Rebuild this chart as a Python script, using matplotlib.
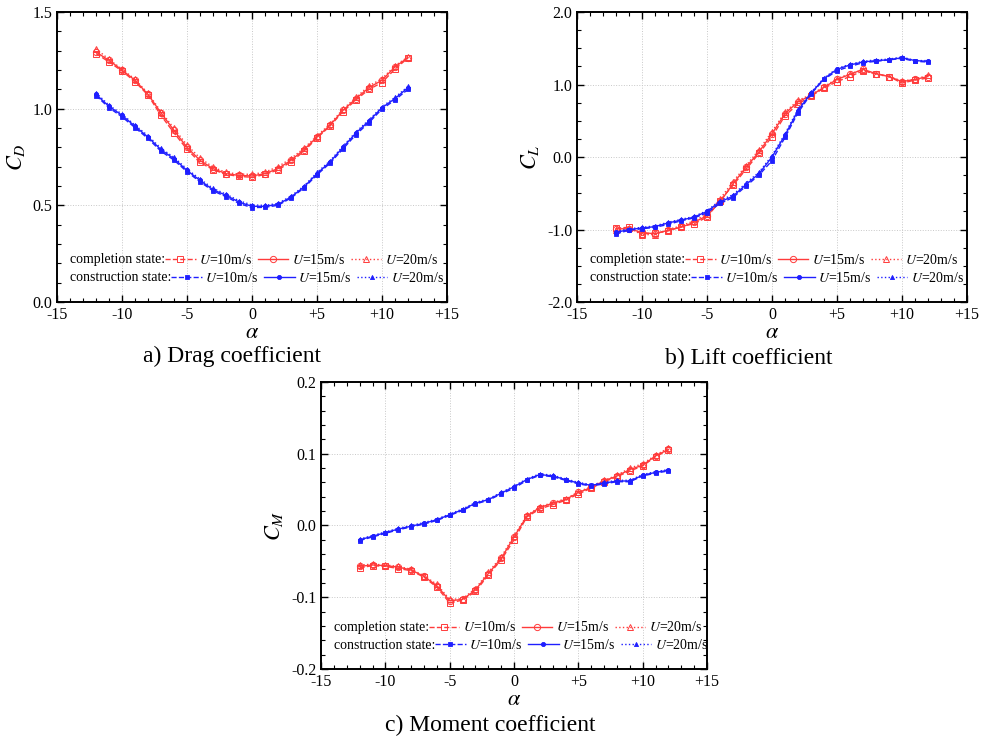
import numpy as np
import matplotlib
matplotlib.use("Agg")
import matplotlib.pyplot as plt
from matplotlib.ticker import MultipleLocator, FixedLocator

plt.rcParams['font.family'] = ['Liberation Serif', 'DejaVu Serif']
plt.rcParams['mathtext.fontset'] = 'stix'

alpha = np.arange(-12, 13)
xticks = [-15, -10, -5, 0, 5, 10, 15]
xticklabels = ['-15', '-10', '-5', '0', '+5', '+10', '+15']
speeds = ['10', '15', '20']

# drag coefficient
cd_comp_10 = [1.285, 1.242, 1.195, 1.140, 1.070, 0.965, 0.875, 0.790, 0.722, 0.685, 0.660, 0.650, 0.645,
              0.660, 0.683, 0.725, 0.780, 0.848, 0.910, 0.985, 1.045, 1.100, 1.135, 1.205, 1.262]
cd_comp_15 = [1.293, 1.250, 1.200, 1.147, 1.074, 0.978, 0.888, 0.800, 0.733, 0.690, 0.664, 0.655, 0.652,
              0.664, 0.690, 0.733, 0.788, 0.853, 0.914, 0.991, 1.052, 1.109, 1.147, 1.216, 1.264]
cd_comp_20 = [1.310, 1.255, 1.205, 1.152, 1.080, 0.985, 0.898, 0.812, 0.745, 0.698, 0.670, 0.662, 0.660,
              0.672, 0.700, 0.742, 0.795, 0.860, 0.920, 0.998, 1.058, 1.118, 1.155, 1.222, 1.268]
cd_cons_10 = [1.068, 1.005, 0.958, 0.902, 0.846, 0.780, 0.734, 0.674, 0.622, 0.575, 0.545, 0.510, 0.488,
              0.490, 0.500, 0.538, 0.590, 0.658, 0.718, 0.792, 0.866, 0.928, 0.998, 1.045, 1.100]
cd_cons_15 = [1.074, 1.012, 0.966, 0.909, 0.853, 0.788, 0.741, 0.681, 0.629, 0.581, 0.552, 0.517, 0.495,
              0.495, 0.505, 0.543, 0.595, 0.664, 0.724, 0.800, 0.874, 0.936, 1.005, 1.052, 1.109]
cd_cons_20 = [1.082, 1.018, 0.972, 0.915, 0.860, 0.795, 0.748, 0.688, 0.636, 0.588, 0.558, 0.524, 0.502,
              0.500, 0.510, 0.548, 0.600, 0.670, 0.730, 0.806, 0.880, 0.942, 1.010, 1.058, 1.115]

# lift coefficient
cl_comp_10 = [-0.98, -0.97, -1.06, -1.05, -1.02, -0.96, -0.92, -0.83, -0.60, -0.39, -0.17, 0.05, 0.28,
              0.57, 0.73, 0.84, 0.95, 1.04, 1.11, 1.19, 1.15, 1.11, 1.02, 1.06, 1.09]
cl_comp_15 = [-0.99, -0.99, -1.04, -1.06, -1.01, -0.97, -0.90, -0.81, -0.62, -0.37, -0.14, 0.07, 0.32,
              0.60, 0.76, 0.85, 0.96, 1.07, 1.14, 1.21, 1.15, 1.11, 1.04, 1.07, 1.11]
cl_comp_20 = [-1.01, -0.98, -1.07, -1.07, -1.00, -0.95, -0.88, -0.79, -0.58, -0.34, -0.12, 0.10, 0.35,
              0.62, 0.78, 0.86, 0.97, 1.08, 1.15, 1.20, 1.14, 1.11, 1.05, 1.07, 1.13]
cl_cons_10 = [-1.06, -1.01, -0.99, -0.97, -0.93, -0.88, -0.84, -0.77, -0.64, -0.56, -0.40, -0.25, -0.05,
              0.27, 0.61, 0.87, 1.07, 1.19, 1.25, 1.30, 1.32, 1.34, 1.36, 1.32, 1.31]
cl_cons_15 = [-1.04, -1.00, -0.98, -0.96, -0.91, -0.87, -0.83, -0.75, -0.62, -0.54, -0.38, -0.23, 0.00,
              0.30, 0.64, 0.88, 1.08, 1.21, 1.27, 1.31, 1.33, 1.34, 1.37, 1.33, 1.32]
cl_cons_20 = [-1.03, -0.99, -0.97, -0.95, -0.90, -0.86, -0.82, -0.74, -0.60, -0.52, -0.36, -0.21, 0.02,
              0.32, 0.66, 0.89, 1.09, 1.22, 1.28, 1.32, 1.34, 1.35, 1.38, 1.33, 1.33]

# moment coefficient
cm_comp_10 = [-0.059, -0.056, -0.057, -0.060, -0.063, -0.072, -0.086, -0.108, -0.104, -0.092, -0.069, -0.048, -0.020,
              0.012, 0.023, 0.029, 0.035, 0.044, 0.052, 0.061, 0.068, 0.076, 0.083, 0.096, 0.105]
cm_comp_15 = [-0.057, -0.055, -0.056, -0.058, -0.062, -0.071, -0.084, -0.105, -0.103, -0.090, -0.067, -0.046, -0.016,
              0.013, 0.025, 0.031, 0.036, 0.046, 0.053, 0.062, 0.069, 0.078, 0.084, 0.097, 0.106]
cm_comp_20 = [-0.055, -0.054, -0.055, -0.057, -0.061, -0.070, -0.082, -0.103, -0.102, -0.088, -0.065, -0.044, -0.014,
              0.014, 0.026, 0.032, 0.037, 0.047, 0.054, 0.063, 0.070, 0.080, 0.086, 0.098, 0.108]
cm_cons_10 = [-0.021, -0.016, -0.011, -0.006, -0.002, 0.002, 0.007, 0.014, 0.021, 0.030, 0.035, 0.044, 0.052,
              0.063, 0.070, 0.068, 0.063, 0.058, 0.055, 0.058, 0.061, 0.061, 0.069, 0.073, 0.076]
cm_cons_15 = [-0.020, -0.015, -0.010, -0.005, -0.001, 0.003, 0.008, 0.015, 0.022, 0.031, 0.036, 0.045, 0.054,
              0.064, 0.071, 0.069, 0.064, 0.059, 0.056, 0.059, 0.062, 0.062, 0.070, 0.074, 0.077]
cm_cons_20 = [-0.019, -0.014, -0.009, -0.004, 0.000, 0.004, 0.009, 0.016, 0.023, 0.032, 0.037, 0.046, 0.055,
              0.065, 0.072, 0.070, 0.065, 0.060, 0.057, 0.060, 0.063, 0.063, 0.071, 0.075, 0.078]

RED = '#ff3b3b'
BLUE = '#1f1fff'
styles = [('--', 's'), ('-', 'o'), (':', '^')]


def draw_panel(ax, comp, cons, ylim, major, minor, ylabel):
    comp_h, cons_h = [], []
    for (ls, mk), y in zip(styles, comp):
        h, = ax.plot(alpha, y, ls=ls, color=RED, lw=1.0, marker=mk, ms=4.5,
                     mfc='none', mec=RED, mew=0.7)
        comp_h.append(h)
    for (ls, mk), y in zip(styles, cons):
        h, = ax.plot(alpha, y, ls=ls, color=BLUE, lw=1.0, marker=mk, ms=3,
                     mfc=BLUE, mec=BLUE, mew=0.6)
        cons_h.append(h)

    ax.set_xlim(-15, 15)
    ax.set_ylim(*ylim)
    ax.xaxis.set_major_locator(FixedLocator(xticks))
    ax.set_xticklabels(xticklabels)
    ax.xaxis.set_minor_locator(MultipleLocator(1))
    ax.yaxis.set_major_locator(MultipleLocator(major))
    ax.yaxis.set_minor_locator(MultipleLocator(minor))
    ax.yaxis.set_major_formatter(plt.FuncFormatter(lambda v, p: '%.1f' % v))
    ax.tick_params(which='both', direction='in', top=True, right=True, labelsize=11.5)
    ax.tick_params(which='major', length=5, width=1)
    ax.tick_params(which='minor', length=3, width=0.8)
    for s in ax.spines.values():
        s.set_linewidth(1.4)
    ax.grid(True, which='major', ls=':', color='#c8c8c8', lw=0.7)
    ax.set_axisbelow(True)
    ax.set_xlabel(r'$\alpha$', fontsize=16, labelpad=1)
    ax.set_ylabel(ylabel, fontsize=16, labelpad=4)

    labels = ['$U$=%sm/s' % s for s in speeds]
    fig.canvas.draw()
    rend = fig.canvas.get_renderer()
    rows = [('completion state:', comp_h, 0.145), ('construction state:', cons_h, 0.083)]
    first = None
    for txt, hs, yy in rows:
        t = ax.text(0.033, yy, txt, transform=ax.transAxes, fontsize=10, va='center')
        bb = t.get_window_extent(rend).transformed(ax.transAxes.inverted())
        leg = ax.legend(hs, labels, ncol=3, loc='center left', bbox_to_anchor=(bb.x1, yy),
                        frameon=False, fontsize=10, handlelength=2.2, handletextpad=0.25,
                        columnspacing=0.4, borderpad=0, borderaxespad=0)
        if first is None:
            first = leg
            ax.add_artist(leg)


fig = plt.figure(figsize=(9.86, 7.37), dpi=100)
ax_a = fig.add_axes([0.0578, 0.5902, 0.3955, 0.3935])
ax_b = fig.add_axes([0.5852, 0.5902, 0.3955, 0.3935])
ax_c = fig.add_axes([0.3256, 0.0923, 0.3915, 0.3894])

draw_panel(ax_a, [cd_comp_10, cd_comp_15, cd_comp_20], [cd_cons_10, cd_cons_15, cd_cons_20],
           (0.0, 1.5), 0.5, 0.1, '$C_D$')
draw_panel(ax_b, [cl_comp_10, cl_comp_15, cl_comp_20], [cl_cons_10, cl_cons_15, cl_cons_20],
           (-2.0, 2.0), 1.0, 0.25, '$C_L$')
draw_panel(ax_c, [cm_comp_10, cm_comp_15, cm_comp_20], [cm_cons_10, cm_cons_15, cm_cons_20],
           (-0.2, 0.2), 0.1, 0.02, '$C_M$')

fig.text(232 / 986, 1 - 356 / 737, 'a) Drag coefficient', ha='center', va='center', fontsize=17)
fig.text(749 / 986, 1 - 358 / 737, 'b) Lift coefficient', ha='center', va='center', fontsize=17)
fig.text(490 / 986, 1 - 725 / 737, 'c) Moment coefficient', ha='center', va='center', fontsize=17)

fig.savefig('out.png', dpi=100)
